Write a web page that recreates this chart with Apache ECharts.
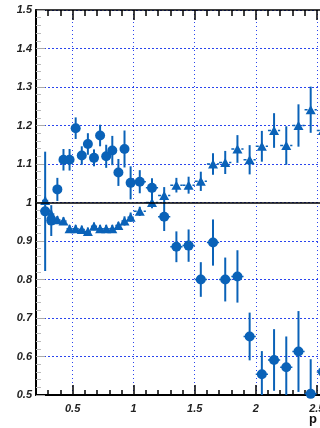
<!DOCTYPE html>
<html>
<head>
<meta charset="utf-8">
<script src="https://cdn.jsdelivr.net/npm/echarts@6/dist/echarts.min.js"></script>
<style>html,body{margin:0;padding:0;background:#fff}#c{width:320px;height:428px}</style>
</head>
<body>
<div id="c"></div>
<script>
// bin centres (p)
const xBins = [0.275,0.325,0.375,0.425,0.475,0.525,0.575,0.625,0.675,0.725,0.775,0.825,0.875,0.925,0.975,
               1.05,1.15,1.25,1.35,1.45,1.55,1.65,1.75,1.85,1.95,2.05,2.15,2.25,2.35,2.45,2.55];
const xHalfWidth = [0.025,0.025,0.025,0.025,0.025,0.025,0.025,0.025,0.025,0.025,0.025,0.025,0.025,0.025,0.025,
                    0.05,0.05,0.05,0.05,0.05,0.05,0.05,0.05,0.05,0.05,0.05,0.05,0.05,0.05,0.05,0.05];
// circles
const circleY = [0.977,0.953,1.034,1.111,1.111,1.193,1.122,1.152,1.116,1.174,1.120,1.135,1.078,1.139,1.051,
                 1.054,1.038,0.963,0.885,0.888,0.800,0.896,0.800,0.808,0.652,0.554,0.591,0.572,0.613,0.503,0.560];
const circleErr = [0.155,0.040,0.030,0.028,0.028,0.028,0.024,0.028,0.022,0.028,0.030,0.038,0.035,0.048,0.043,
                   0.030,0.025,0.037,0.040,0.042,0.045,0.060,0.057,0.068,0.062,0.060,0.080,0.080,0.105,0.090,0.080];
// triangles
const triY = [1.005,0.970,0.955,0.952,0.932,0.932,0.930,0.925,0.938,0.932,0.932,0.932,0.940,0.952,0.962,
              0.977,1.000,1.018,1.045,1.045,1.055,1.100,1.104,1.139,1.111,1.146,1.187,1.148,1.200,1.241,1.187];
const triErr = [0.010,0.010,0.010,0.010,0.010,0.010,0.010,0.010,0.010,0.010,0.010,0.010,0.010,0.012,0.012,
                0.012,0.015,0.022,0.019,0.022,0.025,0.028,0.030,0.036,0.038,0.040,0.045,0.050,0.055,0.060,0.060];
const xMajorTicks = [0.5,1,1.5,2,2.5];
const xTitle = 'p';

const COLOR = '#0a62b8';
const GRID_COLOR = '#2a45ee';
const labelFont = {fontFamily:'Liberation Sans, Arial, sans-serif', fontStyle:'italic', fontWeight:'bold', fontSize:11, color:'#222'};

function errSeries(ys, es, z) {
  return {
    type:'custom', xAxisIndex:0, yAxisIndex:0, clip:true, z:z, silent:true,
    data: xBins.map((x,i)=>[x, ys[i], es[i], xHalfWidth[i]]),
    renderItem(params, api){
      const x=api.value(0), y=api.value(1), e=api.value(2), dx=api.value(3);
      const p1=api.coord([x,y-e]), p2=api.coord([x,y+e]);
      const h1=api.coord([x-dx,y]), h2=api.coord([x+dx,y]);
      return {type:'group', children:[
        {type:'line', shape:{x1:p1[0],y1:p1[1],x2:p2[0],y2:p2[1]}, style:{stroke:COLOR,lineWidth:2}},
        {type:'line', shape:{x1:h1[0],y1:h1[1],x2:h2[0],y2:h2[1]}, style:{stroke:COLOR,lineWidth:1.5,lineDash:[3,2]}}
      ]};
    }
  };
}

const chart = echarts.init(document.getElementById('c'), null, {renderer:'canvas'});
const xBase = {type:'value', min:0.2, max:2.6, gridIndex:0};
chart.setOption({
  animation:false,
  backgroundColor:'#fff',
  grid:{left:36, top:10, width:293, height:385, containLabel:false, outerBoundsMode:'none'},
  xAxis:[
    Object.assign({}, xBase, {
      position:'bottom',
      axisLine:{show:true, onZero:false, lineStyle:{color:'#000', width:2}},
      axisTick:{show:true, inside:true, length:10, customValues:xMajorTicks, lineStyle:{color:'#000', width:1.5}},
      axisLabel:Object.assign({show:true, customValues:xMajorTicks, margin:8,
        formatter:v=>String(+(+v).toFixed(1))}, labelFont),
      splitLine:{show:true, lineStyle:{color:GRID_COLOR, width:1, type:[1,3]}}
    }),
    Object.assign({}, xBase, {
      position:'bottom', interval:0.1,
      axisLine:{show:false, onZero:false},
      axisTick:{show:true, inside:true, length:5, lineStyle:{color:'#000', width:1.5}},
      axisLabel:{show:false}, splitLine:{show:false}
    }),
    Object.assign({}, xBase, {
      position:'top', interval:0.1,
      axisLine:{show:true, onZero:false, lineStyle:{color:'#000', width:1.5}},
      axisTick:{show:true, inside:true, length:6, lineStyle:{color:'#000', width:1.5}},
      axisLabel:{show:false}, splitLine:{show:false}
    }),
    Object.assign({}, xBase, {
      position:'top',
      axisLine:{show:false, onZero:false},
      axisTick:{show:true, inside:true, length:10, customValues:xMajorTicks, lineStyle:{color:'#000', width:1.5}},
      axisLabel:{show:false, customValues:xMajorTicks}, splitLine:{show:false}
    })
  ],
  yAxis:[{
    type:'value', min:0.5, max:1.5, interval:0.1, position:'left',
    axisLine:{show:true, onZero:false, lineStyle:{color:'#000', width:2}},
    axisTick:{show:true, inside:true, length:9, lineStyle:{color:'#aaa', width:1}},
    minorTick:{show:true, splitNumber:5, length:5, lineStyle:{color:'#bbb', width:1}},
    axisLabel:Object.assign({margin:4, formatter:v=>String(+(+v).toFixed(1))}, labelFont),
    splitLine:{show:true, lineStyle:{color:GRID_COLOR, width:1, type:[2,2]}}
  }],
  series:[
    {type:'line', data:[], xAxisIndex:0, yAxisIndex:0, z:1, silent:true,
     markLine:{silent:true, symbol:['none','none'], label:{show:false},
       lineStyle:{color:'#000', width:1.5, type:'solid'}, data:[{yAxis:1}]}},
    errSeries(circleY, circleErr, 2),
    errSeries(triY, triErr, 2),
    {type:'scatter', xAxisIndex:0, yAxisIndex:0, z:3, symbol:'circle', symbolSize:10, clip:false,
     itemStyle:{color:COLOR, opacity:1}, data:xBins.map((x,i)=>[x, circleY[i]])},
    {type:'scatter', xAxisIndex:0, yAxisIndex:0, z:3, symbol:'triangle', symbolSize:[10,9], clip:false,
     itemStyle:{color:COLOR, opacity:1}, data:xBins.map((x,i)=>[x, triY[i]])}
  ],
  graphic:[{type:'text', left:309, top:413, style:{text:xTitle, font:'bold 13px "Liberation Sans", Arial, sans-serif', fill:'#111'}}]
});
</script>
</body>
</html>
